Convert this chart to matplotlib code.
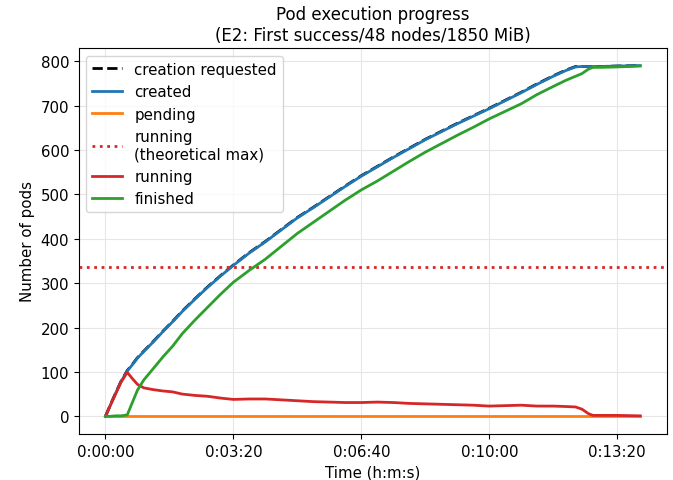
import numpy as np
import matplotlib
matplotlib.use("Agg")
import matplotlib.pyplot as plt
from matplotlib.ticker import FuncFormatter, MultipleLocator

# time in seconds since start
t = [0, 8, 16, 24, 34, 42, 50, 60, 75, 90, 105, 120, 140, 160, 180, 200,
     225, 250, 275, 300, 325, 350, 375, 400, 425, 450, 475, 500, 525, 550,
     575, 600, 625, 650, 675, 700, 720, 735, 745, 755, 762, 775, 800, 836]

requested = [0, 27, 53, 78, 103, 117, 132, 147, 169, 192, 214, 237, 265, 292, 317, 341,
             369, 394, 421, 448, 471, 495, 519, 542, 563, 584, 604, 624, 642, 660,
             677, 694, 712, 730, 749, 767, 780, 788, 788, 788, 788, 788, 789, 790]

created = [0, 26, 52, 77, 102, 116, 131, 146, 168, 191, 213, 236, 264, 291, 316, 340,
           368, 393, 420, 447, 470, 494, 518, 541, 562, 583, 603, 623, 641, 659,
           676, 693, 711, 729, 748, 766, 779, 787, 788, 788, 788, 788, 789, 790]

pending = [0] * len(t)

running = [0, 26, 51, 76, 99, 85, 72, 64, 60, 57, 55, 50, 47, 45, 41, 38,
           39, 39, 37, 35, 33, 32, 31, 31, 32, 31, 29, 28, 27, 26,
           25, 23, 24, 25, 23, 23, 22, 21, 16, 6, 2, 2, 2, 1]

finished = [0, 0, 1, 1, 3, 31, 59, 82, 108, 134, 158, 186, 217, 246, 275, 302,
            329, 354, 383, 412, 437, 462, 487, 510, 530, 552, 574, 595, 614, 633,
            651, 670, 687, 704, 725, 743, 757, 766, 772, 782, 786, 786, 787, 789]

running_max = 336  # 48 nodes * 7

plt.rcParams['font.size'] = 10.8

fig, ax = plt.subplots(figsize=(6.73, 4.81), dpi=100)
fig.subplots_adjust(left=0.117, right=0.991, top=0.898, bottom=0.096)

ax.plot(t, requested, color='black', ls='--', lw=2, label='creation requested')
ax.plot(t, created, color='tab:blue', lw=2, label='created')
ax.plot(t, pending, color='tab:orange', lw=2, label='pending')
ax.axhline(running_max, color='tab:red', ls=':', lw=2, label='running\n(theoretical max)')
ax.plot(t, running, color='tab:red', lw=2, label='running')
ax.plot(t, finished, color='tab:green', lw=2, label='finished')


def hms(x, pos):
    x = int(round(x))
    sign = '-' if x < 0 else ''
    x = abs(x)
    return f"{sign}{x // 3600}:{(x % 3600) // 60:02d}:{x % 60:02d}"


ax.xaxis.set_major_locator(MultipleLocator(200))
ax.xaxis.set_major_formatter(FuncFormatter(hms))
ax.grid(True, color='#e6e6e6', lw=0.8)
ax.set_axisbelow(True)

ax.set_xlabel('Time (h:m:s)')
ax.set_ylabel('Number of pods')
ax.set_title('Pod execution progress\n(E2: First success/48 nodes/1850 MiB)', fontsize=12)
ax.legend(loc='upper left')

fig.savefig('out.png', dpi=100)
